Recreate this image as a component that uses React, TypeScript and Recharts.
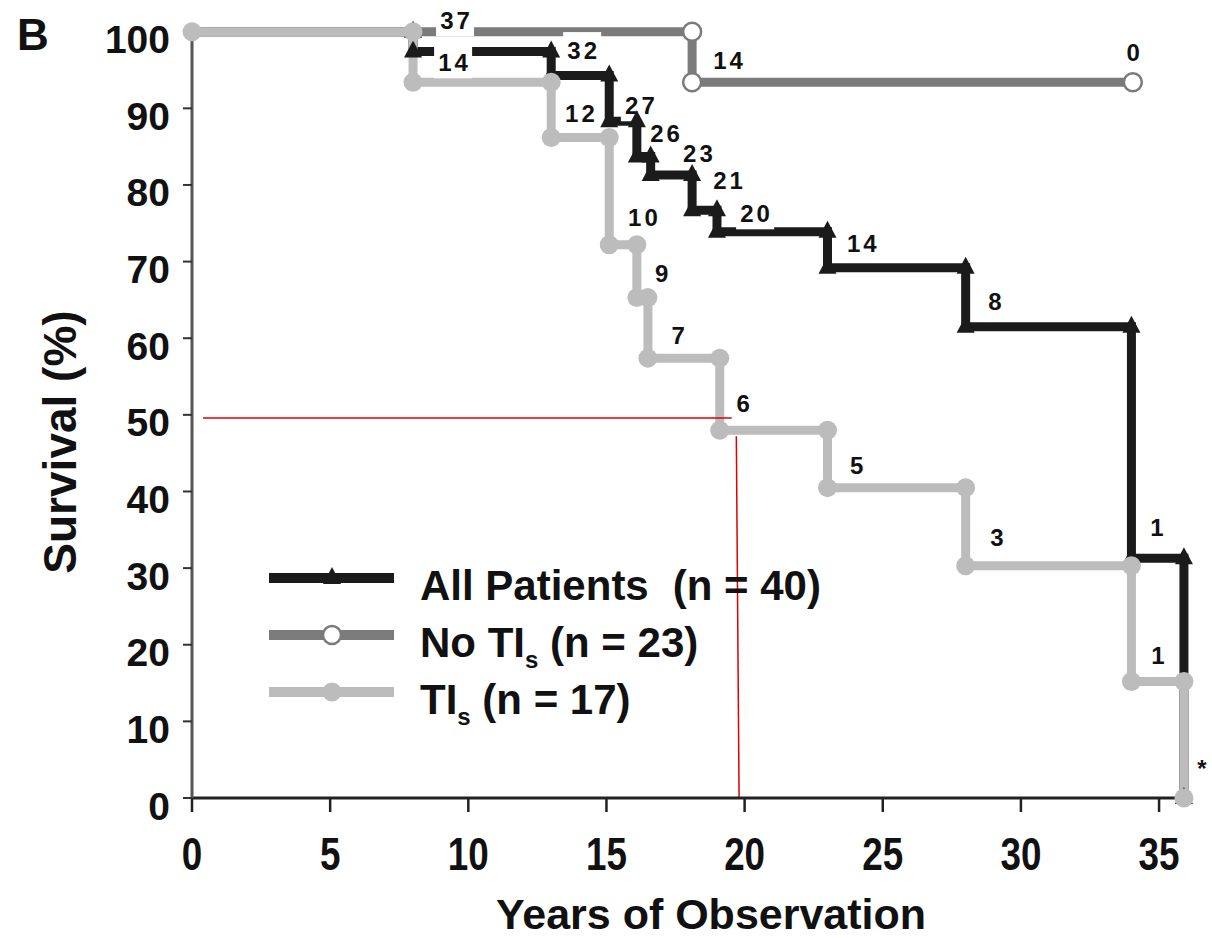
import { LineChart, Line, XAxis, YAxis, ReferenceLine, ReferenceDot, Legend } from 'recharts'

const FONT = '"Liberation Sans", Arial, Helvetica, sans-serif'

const xTicks = [0, 5, 10, 15, 20, 25, 30, 35]
const yTicks = [0, 10, 20, 30, 40, 50, 60, 70, 80, 90, 100]

// Kaplan-Meier step vertices (years, survival %)
const allYears = [0, 8, 8, 13, 13, 15.1, 15.1, 16.1, 16.1, 16.6, 16.6, 18.1, 18.1, 19.0, 19.0, 23.0, 23.0, 28.0, 28.0, 34.0, 34.0, 35.9, 35.9]
const allSurv = [100, 100, 97.4, 97.4, 94.3, 94.3, 88.3, 88.3, 83.7, 83.7, 81.3, 81.3, 76.7, 76.7, 73.9, 73.9, 69.2, 69.2, 61.5, 61.5, 31.3, 31.3, 0]

const noTiYears = [0, 18.1, 18.1, 34.05]
const noTiSurv = [100, 100, 93.4, 93.4]

const tiYears = [0, 8, 8, 13, 13, 15.1, 15.1, 16.1, 16.1, 16.5, 16.5, 19.1, 19.1, 23.0, 23.0, 28.0, 28.0, 34.0, 34.0, 35.9, 35.9]
const tiSurv = [100, 100, 93.4, 93.4, 86.2, 86.2, 72.2, 72.2, 65.3, 65.3, 57.4, 57.4, 48.0, 48.0, 40.5, 40.5, 30.3, 30.3, 15.2, 15.2, 0]

// numbers at risk printed on the curves
const riskText = ['37', '14', '32', '14', '12', '27', '26', '23', '21', '20', '10', '0', '9', '7', '14', '6', '8', '5', '3', '1', '1', '*']
const riskYears = [9.52, 9.45, 14.12, 19.4, 14.04, 16.21, 17.12, 18.31, 19.4, 20.38, 16.32, 34.06, 17.0, 17.6, 24.24, 19.95, 29.06, 24.06, 29.13, 34.92, 34.96, 36.55]
const riskSurv = [101.5, 96.0, 97.6, 96.3, 89.4, 90.4, 86.8, 84.2, 80.6, 76.3, 75.8, 97.4, 68.5, 60.4, 72.4, 51.5, 64.8, 43.5, 34.1, 35.4, 18.7, 3.9]

// median guide (red)
const medianSurv = 49.6
const medianYear = 19.75

const toPoints = (ts: number[], ss: number[]) => ts.map((t, i) => ({ t, s: ss[i] }))
const allData = toPoints(allYears, allSurv)
const noTiData = toPoints(noTiYears, noTiSurv)
const tiData = toPoints(tiYears, tiSurv)

const BLACK = '#1b1b1b'
const DARK = '#7b7b7b'
const LIGHT = '#bcbcbc'

const triangle = (cx: number, cy: number, key?: string) => (
  <polygon key={key} points={`${cx},${cy - 11} ${cx + 9},${cy + 6} ${cx - 9},${cy + 6}`} fill={BLACK} />
)
const openCircle = (cx: number, cy: number, key?: string) => (
  <circle key={key} cx={cx} cy={cy} r={9} fill="#fff" stroke={DARK} strokeWidth={2.5} />
)
const grayCircle = (cx: number, cy: number, key?: string) => (
  <circle key={key} cx={cx} cy={cy} r={9.5} fill={LIGHT} />
)

const XTick = (props: any) => {
  const { x, y, payload } = props
  return (
    <g transform={`translate(${x},${y + 58})`}>
      <text textAnchor="middle" transform="scale(0.8,1)" fontFamily={FONT} fontWeight="bold" fontSize={46} fill="#111">
        {payload.value}
      </text>
    </g>
  )
}

const YTick = (props: any) => {
  const { x, y, payload } = props
  return (
    <text x={x - 13} y={y + 21.5} textAnchor="end" fontFamily={FONT} fontWeight="bold" fontSize={39} fill="#111">
      {payload.value}
    </text>
  )
}

const XTitle = (props: any) => {
  const vb = props.viewBox
  return (
    <text x={vb.x + 519} y={vb.y + 131} textAnchor="middle" fontFamily={FONT} fontWeight="bold" fontSize={43} fill="#111">
      Years of Observation
    </text>
  )
}

const YTitle = () => (
  <text x={76} y={442} transform="rotate(-90, 76, 442)" textAnchor="middle" fontFamily={FONT} fontWeight="bold" fontSize={46} fill="#111">
    Survival (%)
  </text>
)

// white box behind an at-risk number
const RiskBox = ({ cx, cy, text }: { cx: number; cy: number; text: string }) => {
  if (text === '*') return <g />
  const w = text.length * 15 + 8
  return <rect x={cx - w / 2} y={cy - 18} width={w} height={34} fill="#fff" />
}

const RiskLabel = ({ cx, cy, text }: { cx: number; cy: number; text: string }) => (
  <text x={cx + 1.5} y={cy + 9} textAnchor="middle" fontFamily={FONT} fontWeight="bold" fontSize={24} letterSpacing={3} fill="#111">
    {text}
  </text>
)

const legendItems = [
  { name: 'All Patients', n: '(n = 40)', color: BLACK, mark: triangle, sub: false },
  { name: 'No TI', n: ' (n = 23)', color: DARK, mark: openCircle, sub: true },
  { name: 'TI', n: ' (n = 17)', color: LIGHT, mark: grayCircle, sub: true }
]

const LegendBox = () => (
  <svg width={600} height={190}>
    {legendItems.map((it, i) => {
      const ly = 28 + i * 57
      return (
        <g key={it.name}>
          <line x1={9} x2={134} y1={ly} y2={ly} stroke={it.color} strokeWidth={10} />
          {it.mark(72, ly)}
          <text x={160} y={ly + 22} fontFamily={FONT} fontWeight="bold" fontSize={42} fill="#111">
            {it.name}
            {it.sub ? (
              <>
                <tspan dy={11} fontSize={24}>s</tspan>
                <tspan dy={-11}>{it.n}</tspan>
              </>
            ) : (
              <tspan dx={24}>{it.n}</tspan>
            )}
          </text>
        </g>
      )
    })}
  </svg>
)

export default function App() {
  return (
    <div style={{ position: 'absolute', left: 0, top: 0, width: 1212, height: 938, background: '#fff' }}>
      <div style={{ position: 'absolute', left: 17, top: 13, fontFamily: FONT, fontWeight: 'bold', fontSize: 44, lineHeight: '44px', color: '#111' }}>
        B
      </div>
      <LineChart width={1212} height={938} margin={{ top: 31.7, right: 25.3, bottom: 0, left: 0 }}>
        <XAxis
          type="number"
          dataKey="t"
          domain={[0, 36]}
          ticks={xTicks}
          height={140}
          tickSize={14}
          tickMargin={0}
          tick={<XTick />}
          axisLine={{ stroke: '#222', strokeWidth: 3 }}
          tickLine={{ stroke: '#222', strokeWidth: 2.5 }}
          label={<XTitle />}
        />
        <YAxis
          type="number"
          domain={[0, 100]}
          ticks={yTicks}
          width={192}
          tickSize={9}
          tickMargin={0}
          tick={<YTick />}
          axisLine={{ stroke: '#555', strokeWidth: 3 }}
          tickLine={{ stroke: '#333', strokeWidth: 2 }}
          label={<YTitle />}
        />
        <Legend
          layout="vertical"
          align="center"
          verticalAlign="middle"
          content={<LegendBox />}
          wrapperStyle={{ left: 260, top: 550, width: 600, height: 190 }}
        />
        <Line
          data={allData}
          dataKey="s"
          type="linear"
          stroke={BLACK}
          strokeWidth={9}
          strokeLinejoin="miter"
          dot={(p: any) => (p.index === 0 ? <g key="b0" /> : triangle(p.cx, p.cy, `b${p.index}`))}
          activeDot={false}
          isAnimationActive={false}
        />
        <Line
          data={noTiData}
          dataKey="s"
          type="linear"
          stroke={DARK}
          strokeWidth={9}
          dot={(p: any) => (p.index === 0 ? <g key="d0" /> : openCircle(p.cx, p.cy, `d${p.index}`))}
          activeDot={false}
          isAnimationActive={false}
        />
        <Line
          data={tiData}
          dataKey="s"
          type="linear"
          stroke={LIGHT}
          strokeWidth={9}
          dot={(p: any) => grayCircle(p.cx, p.cy, `g${p.index}`)}
          activeDot={false}
          isAnimationActive={false}
        />
        <ReferenceLine
          segment={[{ x: 0.4, y: medianSurv }, { x: medianYear - 0.05, y: medianSurv }]}
          stroke="#e00000"
          strokeWidth={1.5}
        />
        <ReferenceLine
          segment={[{ x: medianYear - 0.05, y: 47.2 }, { x: medianYear + 0.05, y: 0 }]}
          stroke="#e00000"
          strokeWidth={1.5}
        />
        {riskText.map((txt, i) => (
          <ReferenceDot
            key={`rb${i}`}
            x={riskYears[i]}
            y={riskSurv[i]}
            r={0}
            ifOverflow="visible"
            shape={(p: any) => <RiskBox cx={p.cx} cy={p.cy} text={txt} />}
          />
        ))}
        {riskText.map((txt, i) => (
          <ReferenceDot
            key={`rt${i}`}
            x={riskYears[i]}
            y={riskSurv[i]}
            r={0}
            ifOverflow="visible"
            shape={(p: any) => <RiskLabel cx={p.cx} cy={p.cy} text={txt} />}
          />
        ))}
      </LineChart>
    </div>
  )
}
